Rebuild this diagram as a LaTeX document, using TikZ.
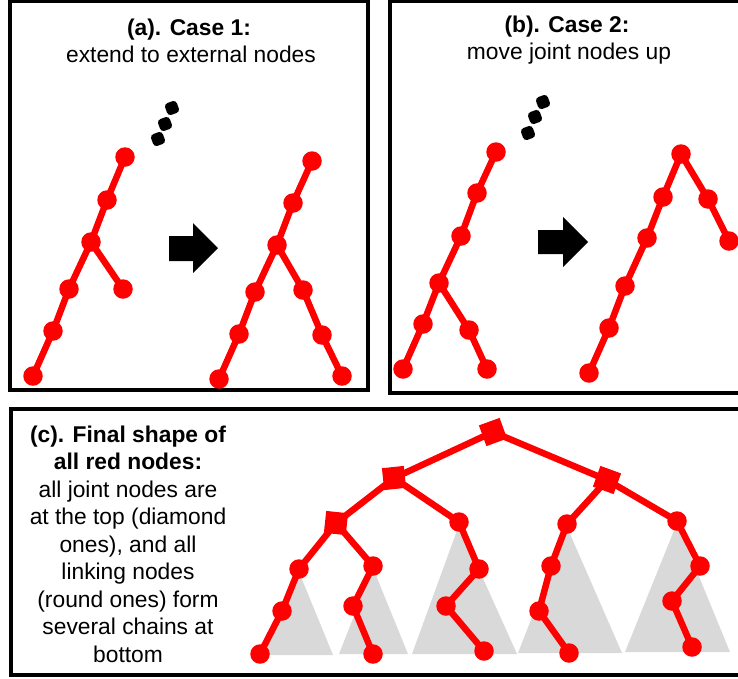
\documentclass[tikz,border=0pt]{standalone}
\usepackage{fontspec}
\setmainfont{Liberation Sans}
\definecolor{tri}{HTML}{D9D9D9}
\begin{document}
\begin{tikzpicture}[x=1pt,y=-1pt,
  rn/.style={circle,fill=red,inner sep=0pt,minimum size=19.5pt},
  dn/.style={rectangle,fill=red,inner sep=0pt,minimum size=22pt},
  ed/.style={draw=red,line width=6.5pt},
  frame/.style={draw=black,line width=4pt},
  dotn/.style={rectangle,fill=black,inner sep=0pt,minimum size=12.5pt,rounded corners=3.5pt,rotate=20},
  tx/.style={font=\fontsize{22.8}{27.5}\selectfont,inner sep=0pt,anchor=base},
  bigarrow/.style={fill=black}]
\useasboundingbox (0,0) rectangle (738,678);
\clip (0,0) rectangle (738,678);
% frames
\draw[frame] (10,1) rectangle (367.5,390);
\draw[frame] (389.5,1) rectangle (750,393);
\draw[frame] (10.5,408.5) rectangle (750,674.5);
% titles
\node[tx] (ta1) at (189,35) {\bfseries (a). Case 1:};
\node[tx] (ta2) at (191,62.5) {extend to external nodes};
\node[tx] (tb1) at (567,32) {\bfseries (b). Case 2:};
\node[tx] (tb2) at (569,59) {move joint nodes up};
\node[font=\fontsize{22.8}{27.5}\selectfont,inner sep=0pt,align=center,anchor=north] (tc) at (128,425.5)
  {\bfseries (c). Final shape of\\ \bfseries all red nodes:\\ all joint nodes are\\ at the top (diamond\\ ones), and all\\ linking nodes\\ (round ones) form\\ several chains at\\ bottom};
% dots
\node[dotn] (da1) at (172,108) {};
\node[dotn] (da2) at (165,124) {};
\node[dotn] (da3) at (158,139) {};
\node[dotn] (db1) at (543,102) {};
\node[dotn] (db2) at (535,117) {};
\node[dotn] (db3) at (528,133) {};
% block arrows
\fill[bigarrow] (169,236) -- (193,236) -- (193,223) -- (218,248) -- (193,273) -- (193,261) -- (169,261) -- cycle;
\fill[bigarrow] (538,230) -- (563,230) -- (563,217) -- (588,242) -- (563,267) -- (563,254) -- (538,254) -- cycle;
% grey triangles
\fill[tri] (299,572) -- (333,655) -- (264,655) -- cycle;
\fill[tri] (373,568) -- (408,654) -- (339,654) -- cycle;
\fill[tri] (459,525) -- (517,654) -- (412,654) -- cycle;
\fill[tri] (567,527) -- (622,653) -- (518,653) -- cycle;
\fill[tri] (677,523) -- (730,652) -- (625,652) -- cycle;
% panel (a) left tree
\node[rn] (a1) at (125,157) {};
\node[rn] (a2) at (107,200) {};
\node[rn] (a3) at (91,242) {};
\node[rn] (a4) at (69,289) {};
\node[rn] (a5) at (53,331) {};
\node[rn] (a6) at (33,376) {};
\node[rn] (a7) at (123,289) {};
\draw[ed] (a1.center) -- (a2.center) -- (a3.center) -- (a4.center) -- (a5.center) -- (a6.center);
\draw[ed] (a3.center) -- (a7.center);
% panel (a) right tree
\node[rn] (b1) at (312,161) {};
\node[rn] (b2) at (293,203) {};
\node[rn] (b3) at (277,245) {};
\node[rn] (b4) at (255,292) {};
\node[rn] (b5) at (239,334) {};
\node[rn] (b6) at (219,379) {};
\node[rn] (b7) at (303,290) {};
\node[rn] (b8) at (322,335) {};
\node[rn] (b9) at (342,376) {};
\draw[ed] (b1.center) -- (b2.center) -- (b3.center) -- (b4.center) -- (b5.center) -- (b6.center);
\draw[ed] (b3.center) -- (b7.center) -- (b8.center) -- (b9.center);
% panel (b) left tree
\node[rn] (c1) at (496,152) {};
\node[rn] (c2) at (477,193) {};
\node[rn] (c3) at (461,236) {};
\node[rn] (c4) at (439,283) {};
\node[rn] (c5) at (423,324) {};
\node[rn] (c6) at (403,369) {};
\node[rn] (c7) at (469,330) {};
\node[rn] (c8) at (487,369) {};
\draw[ed] (c1.center) -- (c2.center) -- (c3.center) -- (c4.center) -- (c5.center) -- (c6.center);
\draw[ed] (c4.center) -- (c7.center) -- (c8.center);
% panel (b) right tree
\node[rn] (d1) at (681,154) {};
\node[rn] (d2) at (663,197) {};
\node[rn] (d3) at (647,238) {};
\node[rn] (d4) at (625,286) {};
\node[rn] (d5) at (609,328) {};
\node[rn] (d6) at (589,373) {};
\node[rn] (d7) at (708,199) {};
\node[rn] (d8) at (729,241) {};
\draw[ed] (d6.center) -- (d5.center) -- (d4.center) -- (d3.center) -- (d2.center) -- (d1.center) -- (d7.center) -- (d8.center);
% panel (c) tree
\node[dn,rotate=20] (r) at (493,432) {};
\node[dn,rotate=6] (L) at (394,478) {};
\node[dn,rotate=-6] (LL) at (336,523) {};
\node[dn,rotate=-20] (R) at (607,480) {};
\node[rn] (e1) at (299,569) {};
\node[rn] (e2) at (282,611) {};
\node[rn] (e3) at (260,654) {};
\node[rn] (f1) at (373,566) {};
\node[rn] (f2) at (353,606) {};
\node[rn] (f3) at (373,654) {};
\node[rn] (g1) at (459,522) {};
\node[rn] (g2) at (479,569) {};
\node[rn] (g3) at (446,606) {};
\node[rn] (g4) at (484,651) {};
\node[rn] (h1) at (567,524) {};
\node[rn] (h2) at (551,566) {};
\node[rn] (h3) at (539,611) {};
\node[rn] (h4) at (569,653) {};
\node[rn] (k1) at (677,521) {};
\node[rn] (k2) at (700,566) {};
\node[rn] (k3) at (672,601) {};
\node[rn] (k4) at (692,647) {};
\draw[ed] (L.center) -- (r.center) -- (R.center);
\draw[ed] (LL.center) -- (L.center) -- (g1.center) -- (g2.center) -- (g3.center) -- (g4.center);
\draw[ed] (e3.center) -- (e2.center) -- (e1.center) -- (LL.center) -- (f1.center) -- (f2.center) -- (f3.center);
\draw[ed] (h4.center) -- (h3.center) -- (h2.center) -- (h1.center) -- (R.center) -- (k1.center) -- (k2.center) -- (k3.center) -- (k4.center);
\end{tikzpicture}
\end{document}
